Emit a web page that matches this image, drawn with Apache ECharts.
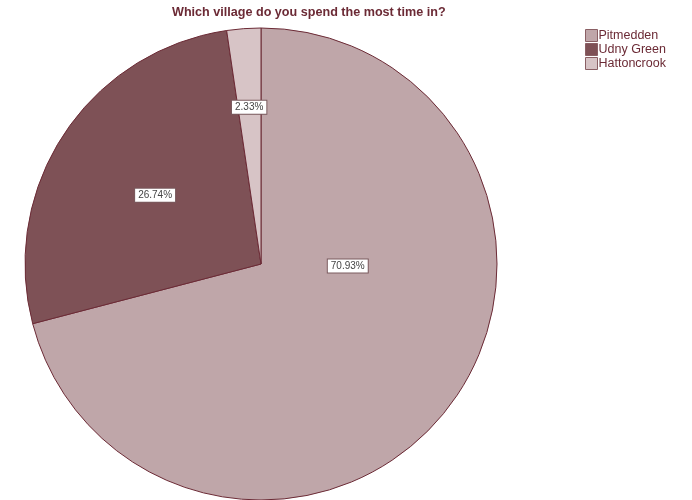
<!DOCTYPE html>
<html><head><meta charset="utf-8">
<script src="https://cdn.jsdelivr.net/npm/echarts@6/dist/echarts.min.js"></script>
<style>html,body{margin:0;padding:0;background:#fff}#c{width:692px;height:500px}</style>
</head><body><div id="c"></div>
<script>
const categories = ['Pitmedden', 'Udny Green', 'Hattoncrook'];
const counts = [61, 23, 2];
const colors = ['#bfa6a9', '#7e5156', '#d7c4c6'];
const labelShift = [[-9, -72], [-5, -2], [-3, -36]];

const chart = echarts.init(document.getElementById('c'));
chart.setOption({
  animation: false,
  title: {
    text: 'Which village do you spend the most time in?',
    left: 172, top: 6, padding: 0,
    textStyle: { fontFamily: 'Liberation Sans, Arial', fontSize: 12.6, fontWeight: 'bold', color: '#6b2a35' }
  },
  legend: {
    orient: 'vertical', left: 585, top: 29, padding: 0,
    itemWidth: 12, itemHeight: 12, itemGap: 1,
    icon: 'rect',
    itemStyle: { borderColor: '#8a5f64', borderWidth: 1 },
    textStyle: { fontFamily: 'Liberation Sans, Arial', fontSize: 12.5, lineHeight: 12, color: '#6b2a35', padding: [0, 0, 0, -4] },
    data: categories
  },
  series: [{
    type: 'pie',
    center: [261, 264],
    radius: 236,
    startAngle: 90,
    clockwise: true,
    itemStyle: { borderColor: '#6b2a35', borderWidth: 1 },
    label: {
      position: 'inside',
      formatter: p => p.percent.toFixed(2) + '%',
      fontFamily: 'Liberation Sans, Arial', fontSize: 10, color: '#444',
      backgroundColor: '#fff', borderColor: '#7a5a5e', borderWidth: 1,
      padding: [2, 3, 1, 3]
    },
    labelLayout: p => ({ dx: labelShift[p.dataIndex][0], dy: labelShift[p.dataIndex][1] }),
    emphasis: { disabled: true },
    data: categories.map((c, i) => ({ name: c, value: counts[i], itemStyle: { color: colors[i] } }))
  }]
});
</script></body></html>
